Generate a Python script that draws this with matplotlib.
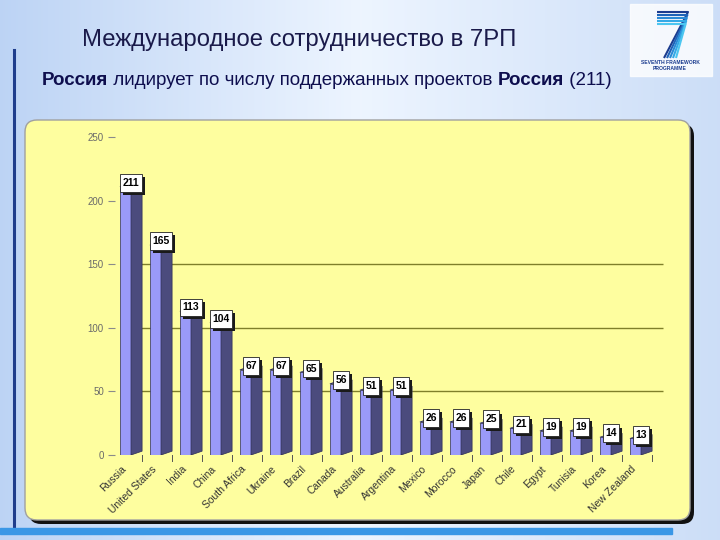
import numpy as np
import matplotlib.pyplot as plt
from matplotlib.patches import FancyBboxPatch, Polygon, Rectangle

# data
countries = ["Russia", "United States", "India", "China", "South Africa", "Ukraine",
             "Brazil", "Canada", "Australia", "Argentina", "Mexico", "Morocco",
             "Japan", "Chile", "Egypt", "Tunisia", "Korea", "New Zealand"]
projects = [211, 165, 113, 104, 67, 67, 65, 56, 51, 51, 26, 26, 25, 21, 19, 19, 14, 13]
yticks = [0, 50, 100, 150, 200, 250]
grid_levels = [50, 100, 150]

title = "Международное сотрудничество в 7РП"
subtitle_parts = [("Россия", "bold"),
                  (" лидирует по числу поддержанных проектов ", "normal"),
                  ("Россия", "bold"),
                  (" (211)", "normal")]

plt.rcParams["font.family"] = ["Liberation Sans", "DejaVu Sans"]

fig = plt.figure(figsize=(7.2, 5.4), dpi=100)

# ---- slide background (pixel coordinates) ----
bg = fig.add_axes([0, 0, 1, 1], zorder=-10)
bg.set_xlim(0, 720)
bg.set_ylim(540, 0)
bg.axis("off")

c_left = np.array([0.74, 0.83, 0.96])
c_mid = np.array([0.93, 0.96, 1.0])
c_right = np.array([0.80, 0.87, 0.97])
s = np.linspace(0, 1, 300)[:, None]
grad = np.where(s < 0.5, c_left + (c_mid - c_left) * (s / 0.5),
                c_mid + (c_right - c_mid) * ((s - 0.5) / 0.5))
bg.imshow(grad[None, :, :], extent=[0, 720, 540, 0], aspect="auto", zorder=0)

# left accent line and bottom strip
bg.plot([14, 14], [50, 526], color="#1f3d8c", lw=2.2, zorder=1)
bg.add_patch(Rectangle((0, 528), 672, 6, color="#3a97e6", zorder=1))

# title + subtitle
bg.text(82, 40, title, fontsize=17.2, color="#1a1a4a", va="center", zorder=2)
prev = None
for txt, wt in subtitle_parts:
    if prev is None:
        prev = bg.text(42, 89, txt, fontsize=13.5, fontweight=wt,
                       color="#0e0e4e", va="bottom", zorder=2)
    else:
        prev = bg.annotate(txt, xy=(1, 0), xycoords=prev, fontsize=13.5,
                           fontweight=wt, color="#0e0e4e", va="bottom",
                           ha="left", zorder=2)

# FP7 logo (rough)
bg.add_patch(Rectangle((630, 4), 82, 72, color="white", alpha=0.8, zorder=1))
for k, col in enumerate(["#1b3c8f", "#1f63b8", "#2a8ad6", "#34a9e6", "#4cc6f0"]):
    off = k * 3.0
    bg.plot([657, 688 - off * 0.2, 664 + off], [12 + off, 12 + off, 58],
            color=col, lw=1.5, solid_capstyle="butt", zorder=2)
bg.text(670, 63, "SEVENTH FRAMEWORK", fontsize=3.6, fontweight="bold",
        color="#1b3c8f", ha="center", va="center", zorder=2)
bg.text(670, 69, "PROGRAMME", fontsize=3.6, fontweight="bold",
        color="#1b3c8f", ha="center", va="center", zorder=2)

# yellow chart panel with dark shadow
bg.add_patch(FancyBboxPatch((29, 124), 665, 400, boxstyle="round,pad=0,rounding_size=12",
                            facecolor="#111111", edgecolor="none", zorder=2))
bg.add_patch(FancyBboxPatch((25, 120), 665, 400, boxstyle="round,pad=0,rounding_size=12",
                            facecolor="#fefe9f", edgecolor="#a0a0a0", lw=1, zorder=3))

# ---- chart ----
ax = fig.add_axes([115 / 720, 85 / 540, 550 / 720, 318 / 540])
ax.patch.set_alpha(0)
for sp in ax.spines.values():
    sp.set_visible(False)
ax.set_xlim(-0.533, 17.8)
ax.set_ylim(0, 250)
ax.set_xticks([])
ax.set_yticks(yticks)
ax.tick_params(axis="y", length=5, width=0.8, color="#8a8a8a", pad=3,
               labelsize=7, labelcolor="#6a6a6a")

ax.hlines(grid_levels, -0.3, 17.75, color="#7f7f2a", lw=1, zorder=1)

front = "#9a9af8"
side = "#4b4b7d"
topc = "#b8b8ff"
edge = "#2e2e55"
d = 0.37
dy = 3

x = np.arange(len(countries))
ax.bar(x - d / 2, projects, width=d, color=front, edgecolor=edge, lw=0.5, zorder=3)
for i, v in enumerate(projects):
    ax.add_patch(Polygon([(i, 0), (i + d, dy), (i + d, v + dy), (i, v)],
                         closed=True, facecolor=side, edgecolor=edge, lw=0.5, zorder=3))
    ax.add_patch(Polygon([(i - d, v), (i, v), (i + d, v + dy), (i, v + dy)],
                         closed=True, facecolor=topc, edgecolor=edge, lw=0.5, zorder=3))
    # small tick under the floor
    ax.plot([i + d, i + d], [0, -5], color="#555555", lw=0.7, clip_on=False, zorder=2)

# value boxes with shadow
box_h = 14
for i, v in enumerate(projects):
    lbl = str(v)
    bw = 0.2 * len(lbl) + 0.15
    yc = v + 3
    ax.add_patch(Rectangle((i - bw / 2 + 0.1, yc - box_h / 2 - 2.4), bw, box_h,
                           facecolor="#1a1a1a", edgecolor="none", zorder=4))
    ax.add_patch(Rectangle((i - bw / 2, yc - box_h / 2), bw, box_h,
                           facecolor="white", edgecolor="#222222", lw=0.6, zorder=5))
    ax.text(i, yc, lbl, fontsize=7.5, fontweight="bold", color="black",
            ha="center", va="center", zorder=6)

# rotated category labels
for i, name in enumerate(countries):
    ax.text(i - 0.33, -7, name, rotation=45, ha="right", va="top",
            rotation_mode="anchor", fontsize=7.5, color="#333333", clip_on=False)

fig.savefig("out.png", dpi=100)
